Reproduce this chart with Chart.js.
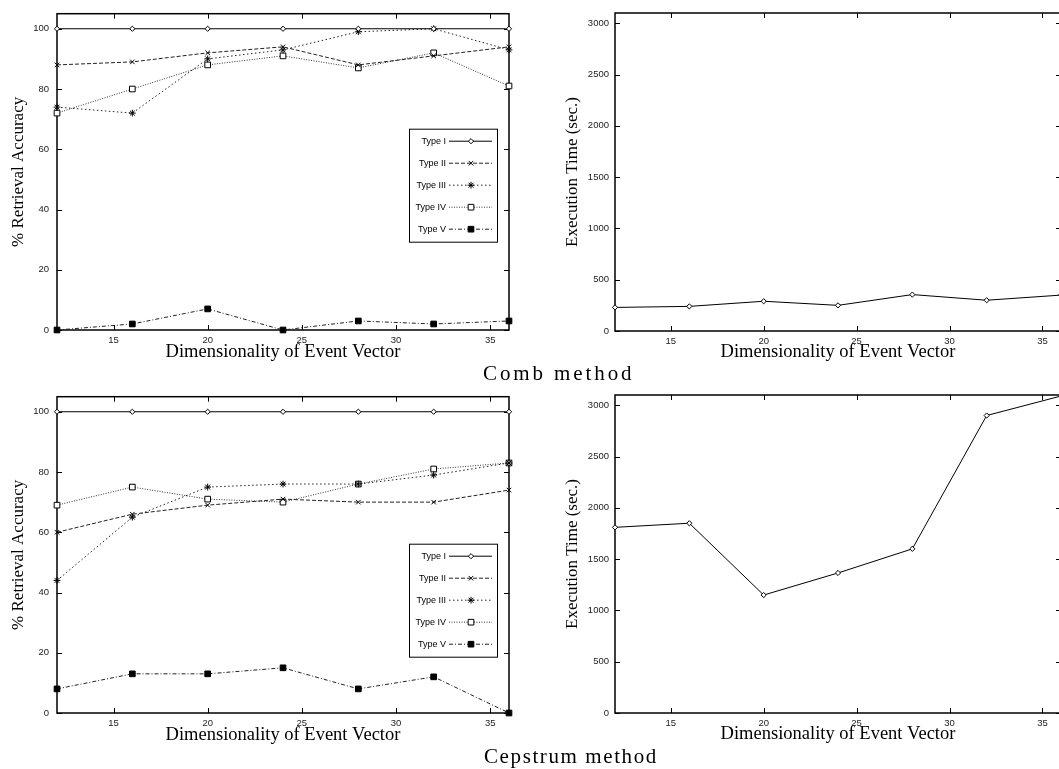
<!DOCTYPE html>
<html>
<head>
<meta charset="utf-8">
<script src="https://cdn.jsdelivr.net/npm/chart.js@4/dist/chart.umd.min.js"></script>
<style>
  html, body { margin: 0; padding: 0; background: #fff; overflow: hidden; width: 1059px; height: 769px; }
  canvas { position: absolute; }
  .caption { position: absolute; font-family: "Liberation Serif", serif; font-size: 21px; line-height: 21px; letter-spacing: 1.6px; color: #000; white-space: nowrap; }
</style>
</head>
<body>
<canvas id="combAcc" width="540" height="363" style="left:0;top:0"></canvas>
<canvas id="combTime" width="530" height="363" style="left:560px;top:0"></canvas>
<div class="caption" style="left:483px;top:363px;letter-spacing:2.9px">Comb method</div>
<canvas id="cepAcc" width="540" height="363" style="left:0;top:383px"></canvas>
<canvas id="cepTime" width="530" height="363" style="left:560px;top:382px"></canvas>
<div class="caption" style="left:484px;top:746px">Cepstrum method</div>
<script>
// x values: dimensionality of the event vector
const dims = [12, 16, 20, 24, 28, 32, 36];
const typeNames = ['Type I', 'Type II', 'Type III', 'Type IV', 'Type V'];

// comb method, % retrieval accuracy
const combType1 = [100, 100, 100, 100, 100, 100, 100];
const combType2 = [88, 89, 92, 94, 88, 91, 94];
const combType3 = [74, 72, 90, 93, 99, 100, 93];
const combType4 = [72, 80, 88, 91, 87, 92, 81];
const combType5 = [0, 2, 7, 0, 3, 2, 3];
// comb method, execution time (sec.)
const combTime = [230, 240, 290, 250, 355, 300, 350];

// cepstrum method, % retrieval accuracy
const cepType1 = [100, 100, 100, 100, 100, 100, 100];
const cepType2 = [60, 66, 69, 71, 70, 70, 74];
const cepType3 = [44, 65, 75, 76, 76, 79, 83];
const cepType4 = [69, 75, 71, 70, 76, 81, 83];
const cepType5 = [8, 13, 13, 15, 8, 12, 0];
// cepstrum method, execution time (sec.)
const cepTime = [1810, 1850, 1150, 1365, 1600, 2900, 3090];

// tick labels
const dimTicks = [15, 20, 25, 30, 35];
const accTicks = [0, 20, 40, 60, 80, 100];
const timeTicks = [0, 500, 1000, 1500, 2000, 2500, 3000];

// line / marker look for each type
const typeStyles = [
	{ dash: [], point: 'rectRot', r: 2.6, fill: '#fff', color: '#000' },
	{ dash: [4, 2], point: 'crossRot', r: 3.2, fill: '#000', color: '#222' },
	{ dash: [1.5, 2.5], point: 'star', r: 3.4, fill: '#000', color: '#222' },
	{ dash: [1, 1.5], point: 'rect', r: 4, fill: '#fff', color: '#333' },
	{ dash: [4, 2, 1, 2], point: 'rect', r: 4, fill: '#000', color: '#222' }
];

const tickFont = { family: '"Liberation Sans", Arial, sans-serif', size: 9.5 };
const xTitleFont = { family: '"Liberation Serif", serif', size: 18.5 };
const yTitleFont = { family: '"Liberation Serif", serif', size: 17 };

function points(ys) {
	return dims.map((d, i) => ({ x: d, y: ys[i] }));
}

function seriesSet(list) {
	return list.map((ys, i) => {
		const st = typeStyles[i];
		return {
			label: typeNames[i],
			data: points(ys),
			borderColor: st.color,
			borderWidth: 1,
			borderDash: st.dash,
			pointStyle: st.point,
			pointRadius: st.r,
			pointBorderColor: '#000',
			pointBackgroundColor: st.fill,
			pointBorderWidth: 1,
			tension: 0,
			clip: false
		};
	});
}

// gnuplot style box with inward ticks on all four sides
const framePlugin = {
	id: 'frame',
	beforeDatasetsDraw(chart) {
		const { ctx, chartArea: a, scales: { x, y } } = chart;
		ctx.save();
		ctx.strokeStyle = '#000';
		ctx.lineWidth = 1.5;
		ctx.strokeRect(a.left, a.top, a.right - a.left, a.bottom - a.top);
		ctx.lineWidth = 1;
		ctx.beginPath();
		x.ticks.forEach(t => {
			const px = Math.round(x.getPixelForValue(t.value)) + 0.5;
			ctx.moveTo(px, a.bottom); ctx.lineTo(px, a.bottom - 5);
			ctx.moveTo(px, a.top); ctx.lineTo(px, a.top + 5);
		});
		y.ticks.forEach(t => {
			const py = Math.round(y.getPixelForValue(t.value)) + 0.5;
			ctx.moveTo(a.left, py); ctx.lineTo(a.left + 5, py);
			ctx.moveTo(a.right, py); ctx.lineTo(a.right - 5, py);
		});
		ctx.stroke();
		ctx.restore();
	}
};

// key box: label on the left, line sample with marker on the right
const keyPlugin = {
	id: 'key',
	afterDatasetsDraw(chart, args, opts) {
		if (!opts.show) return;
		const { ctx, chartArea: a } = chart;
		const w = 88, h = 113;
		const left = a.right - opts.right - w;
		const top = a.top + opts.top;
		ctx.save();
		ctx.fillStyle = '#fff';
		ctx.fillRect(left, top, w, h);
		ctx.strokeStyle = '#000';
		ctx.lineWidth = 1;
		ctx.strokeRect(left + 0.5, top + 0.5, w, h);
		chart.data.datasets.forEach((ds, i) => {
			const yy = top + 12.5 + i * 22;
			ctx.font = '9px "Liberation Sans", Arial, sans-serif';
			ctx.fillStyle = '#000';
			ctx.textAlign = 'right';
			ctx.textBaseline = 'middle';
			ctx.fillText(ds.label, left + 37, yy);
			ctx.strokeStyle = ds.borderColor;
			ctx.setLineDash(ds.borderDash);
			ctx.beginPath();
			ctx.moveTo(left + 40, yy);
			ctx.lineTo(left + 83, yy);
			ctx.stroke();
			ctx.setLineDash([]);
			ctx.strokeStyle = ds.pointBorderColor;
			ctx.fillStyle = ds.pointBackgroundColor;
			Chart.helpers.drawPoint(ctx, { pointStyle: ds.pointStyle, radius: ds.pointRadius, rotation: 0, borderWidth: 1 }, left + 62, yy);
		});
		ctx.restore();
	}
};

function makeChart(id, cfg) {
	return new Chart(document.getElementById(id), {
		type: 'line',
		data: { datasets: cfg.datasets },
		options: {
			responsive: false,
			animation: false,
			layout: { padding: { top: 13, right: cfg.padRight, left: 0, bottom: 0 } },
			plugins: {
				legend: { display: false },
				tooltip: { enabled: false },
				key: cfg.key
			},
			scales: {
				x: {
					type: 'linear',
					min: 12,
					max: 36,
					bounds: 'data',
					grid: { display: false, drawTicks: false },
					border: { display: false },
					afterBuildTicks: s => { s.ticks = dimTicks.map(v => ({ value: v })); },
					afterFit: s => { s.height = cfg.xAxisH; },
					ticks: { padding: 5, font: tickFont, color: '#222', maxRotation: 0, callback: v => String(v) },
					title: { display: true, text: 'Dimensionality of Event Vector', font: xTitleFont, color: '#000', padding: { top: 0, bottom: 0 } }
				},
				y: {
					type: 'linear',
					min: 0,
					max: cfg.yMax,
					bounds: 'data',
					grid: { display: false, drawTicks: false },
					border: { display: false },
					afterBuildTicks: s => { s.ticks = cfg.yTicks.map(v => ({ value: v })); },
					afterFit: s => { s.width = cfg.yAxisW; },
					ticks: { padding: cfg.yPad, font: tickFont, color: '#222', callback: v => String(v) },
					title: { display: true, text: cfg.yTitle, font: yTitleFont, color: '#000', padding: { top: cfg.yTitlePad, bottom: 0 } }
				}
			}
		},
		plugins: [framePlugin, keyPlugin]
	});
}

makeChart('combAcc', {
	datasets: seriesSet([combType1, combType2, combType3, combType4, combType5]),
	yMax: 105, yTicks: accTicks, yTitle: '% Retrieval Accuracy',
	yAxisW: 57, yPad: 8, yTitlePad: 8, padRight: 31, xAxisH: 33,
	key: { show: true, right: 12, top: 115 }
});

makeChart('combTime', {
	datasets: [Object.assign(seriesSet([combTime])[0], { label: 'Execution Time' })],
	yMax: 3100, yTicks: timeTicks, yTitle: 'Execution Time (sec.)',
	yAxisW: 55, yPad: 6, yTitlePad: 2, padRight: 29, xAxisH: 32,
	key: { show: false }
});

makeChart('cepAcc', {
	datasets: seriesSet([cepType1, cepType2, cepType3, cepType4, cepType5]),
	yMax: 105, yTicks: accTicks, yTitle: '% Retrieval Accuracy',
	yAxisW: 57, yPad: 8, yTitlePad: 8, padRight: 31, xAxisH: 33,
	key: { show: true, right: 12, top: 147 }
});

makeChart('cepTime', {
	datasets: [Object.assign(seriesSet([cepTime])[0], { label: 'Execution Time' })],
	yMax: 3100, yTicks: timeTicks, yTitle: 'Execution Time (sec.)',
	yAxisW: 55, yPad: 6, yTitlePad: 2, padRight: 29, xAxisH: 32,
	key: { show: false }
});
</script>
</body>
</html>
